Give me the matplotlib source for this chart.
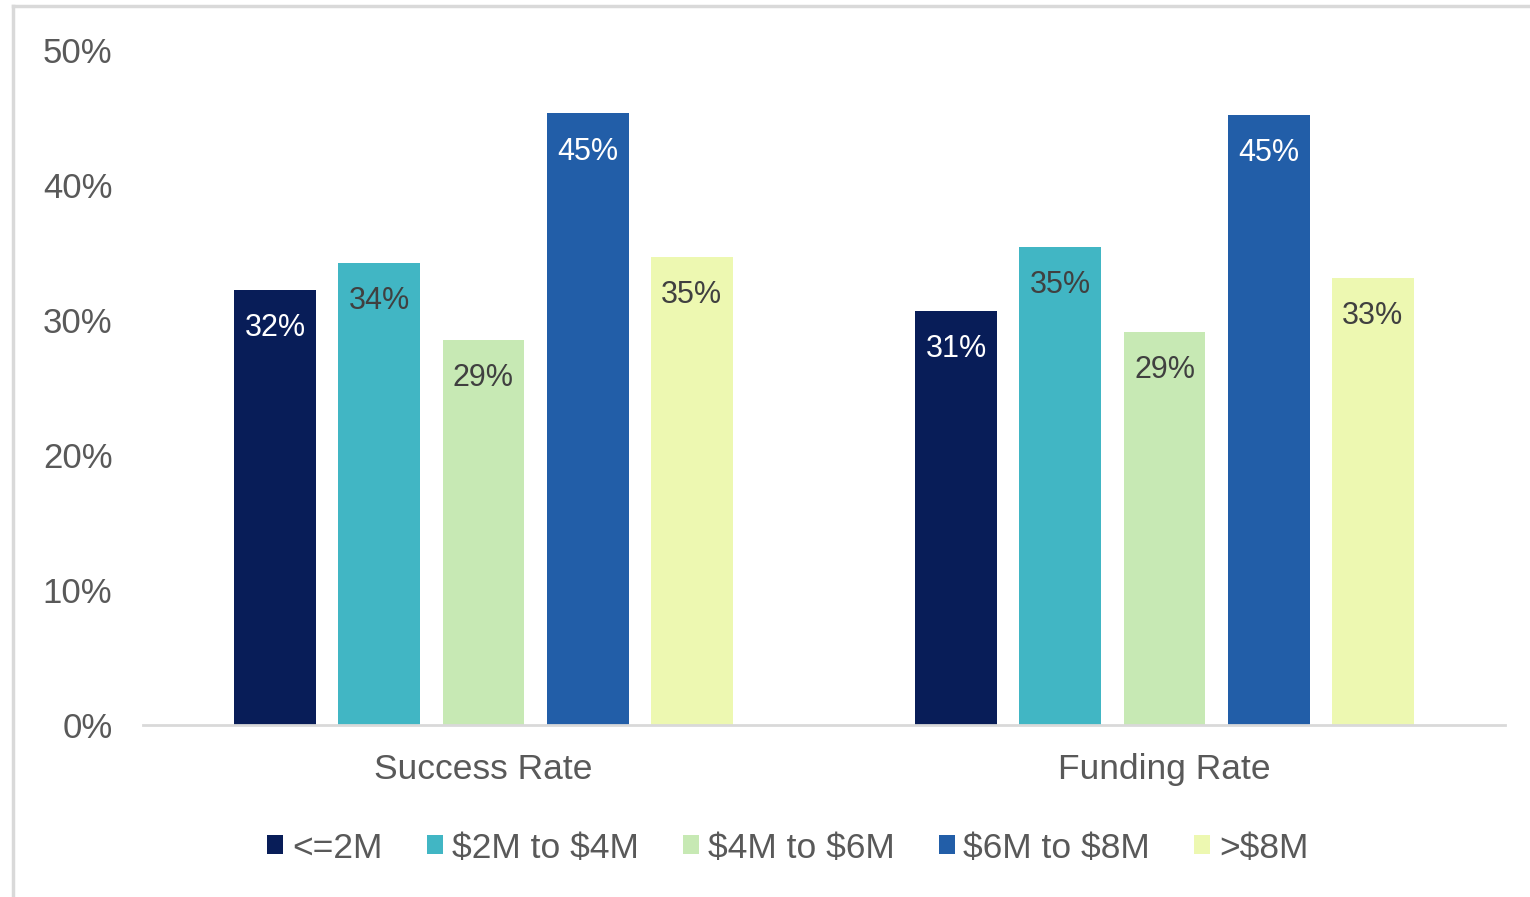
import matplotlib.pyplot as plt
import numpy as np
from matplotlib.lines import Line2D

plt.rcParams['font.family'] = ['Liberation Sans', 'DejaVu Sans']
plt.rcParams['text.parse_math'] = False

categories = ['Success Rate', 'Funding Rate']
series = ['<=2M', '$2M to $4M', '$4M to $6M', '$6M to $8M', '>$8M']
values = {
    '<=2M': [32.2, 30.7],
    '$2M to $4M': [34.2, 35.4],
    '$4M to $6M': [28.5, 29.1],
    '$6M to $8M': [45.3, 45.2],
    '>$8M': [34.7, 33.1],
}
labels = {
    '<=2M': ['32%', '31%'],
    '$2M to $4M': ['34%', '35%'],
    '$4M to $6M': ['29%', '29%'],
    '$6M to $8M': ['45%', '45%'],
    '>$8M': ['35%', '33%'],
}
colors = ['#081D58', '#41B6C4', '#C7E9B4', '#225EA8', '#EDF8B1']
label_colors = ['white', '#404040', '#404040', 'white', '#404040']

fig = plt.figure(figsize=(15.3, 8.97), dpi=100)
ax = fig.add_axes([143/1530, 1-725/897, (1505-143)/1530, (725-50)/897])

x = np.arange(len(categories))
step = 0.153
width = 0.12
for i, s in enumerate(series):
    xs = x + (i - 2) * step
    bars = ax.bar(xs, values[s], width, color=colors[i], label=s, zorder=2)
    for b, lab in zip(bars, labels[s]):
        ax.annotate(lab, (b.get_x() + b.get_width()/2, b.get_height()),
                    xytext=(0, -27.5), textcoords='offset points',
                    ha='center', va='center', fontsize=22, color=label_colors[i])

ax.set_xlim(-0.5, 1.5)
ax.set_ylim(0, 50)
ax.set_yticks(range(0, 51, 10))
ax.set_yticklabels([f'{v}%' for v in range(0, 51, 10)])
ax.set_xticks(x)
ax.set_xticklabels(categories)
ax.tick_params(axis='y', length=0, pad=22, labelsize=25, labelcolor='#595959')
ax.tick_params(axis='x', length=0, pad=20, labelsize=25.5, labelcolor='#595959')
for sp in ['top', 'right', 'left']:
    ax.spines[sp].set_visible(False)
ax.spines['bottom'].set_color('#D9D9D9')
ax.spines['bottom'].set_linewidth(2)
ax.spines['bottom'].set_zorder(3)

leg = fig.legend(loc='center', bbox_to_anchor=(788/1530, 1-848/897), ncol=5,
                 frameon=False, fontsize=25.5, handlelength=0.45, handleheight=0.45,
                 handletextpad=0.25, columnspacing=1.25)
for t in leg.get_texts():
    t.set_color('#595959')

# outer frame (left and top edges visible)
fig.add_artist(Line2D([13/1530, 13/1530], [0, 1-6/897], transform=fig.transFigure,
                      color='#D9D9D9', lw=2.5))
fig.add_artist(Line2D([13/1530, 1], [1-6/897, 1-6/897], transform=fig.transFigure,
                      color='#D9D9D9', lw=2.5))

fig.savefig('out.png', dpi=100)
